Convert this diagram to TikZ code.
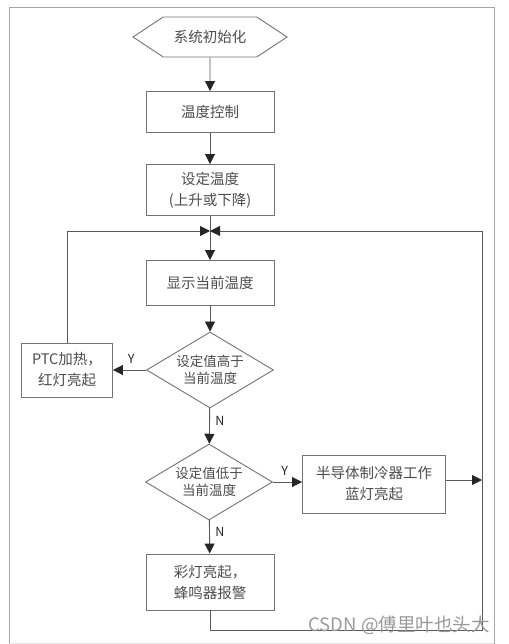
\documentclass[tikz,border=0pt]{standalone}
\usepackage{fontspec}
\setmainfont{Noto Sans CJK SC}
\usetikzlibrary{shapes.geometric,shapes.symbols,arrows.meta}

\tikzset{
  block/.style={draw=black!55, line width=0.9pt, rectangle, inner sep=0pt, minimum width=128pt,
    align=center, text=black!70, font=\fontsize{14.5}{21}\selectfont},
  choice/.style={draw=black!55, line width=0.9pt, diamond, inner sep=0pt, aspect=1.66,
    minimum width=127pt, minimum height=76pt, align=center, text=black!70,
    font=\fontsize{13.5}{17}\selectfont},
  startnode/.style={draw=black!55, line width=0.9pt, shape=signal, signal to=west and east,
    signal pointer angle=67, inner sep=0pt, minimum width=154pt, minimum height=40pt,
    text=black!70, font=\fontsize{14.5}{18}\selectfont},
  flow/.style={draw=black!65, line width=0.9pt, -{Triangle[length=10pt,width=10pt,color=black!85]}},
  plain/.style={draw=black!65, line width=0.9pt},
  tag/.style={text=black!85, font=\fontsize{12.5}{14}\selectfont}
}

\begin{document}
\begin{tikzpicture}[x=1pt, y=-1pt]
        \useasboundingbox (0,0) rectangle (508,644);
        \draw[black!35, line width=0.8pt] (9,644) -- (9,7) -- (494,7) -- (494,644);
        \draw[black!10, line width=0.8pt] (9,643) -- (494,643);

        % Draw steps
        \node[startnode] (init) at (210,37) {系统初始化};
        \node[block, minimum height=41pt] (ctrl) at (210,112) {温度控制};
        \node[block, minimum height=51pt] (set) at (210,190) {设定温度\\(上升或下降)};
        \node[block, minimum height=45pt] (show) at (210,283) {显示当前温度};
        \node[choice] (high) at (210,370) {设定值高于\\当前温度};
        \node[block, minimum width=91pt, minimum height=54pt] (heat) at (67,370) {PTC加热，\\红灯亮起};
        \node[choice] (low) at (209,482) {设定值低于\\当前温度};
        \node[block, minimum width=143pt, minimum height=58pt] (cool) at (374,484) {半导体制冷器工作\\蓝灯亮起};
        \node[block, minimum height=56pt] (alarm) at (210,582) {彩灯亮起，\\蜂鸣器报警};

        % Helper points
        \coordinate (join) at (210,231);
        \coordinate (corner) at (482,630);

        % Draw connections
        \draw[flow] (init) -- (ctrl);
        \draw[flow] (ctrl) -- (set);
        \draw[flow] (set) -- (show);
        \draw[flow] (show) -- (high);
        \draw[flow] (high) -- node[tag, above, pos=0.45, yshift=3pt] {Y} (heat);
        \draw[flow] (high) -- node[tag, right, pos=0.35, xshift=2pt] {N} (low);
        \draw[flow] (low) -- node[tag, above, pos=0.4, yshift=3pt] {Y} (cool.west |- low);
        \draw[flow] (low) -- node[tag, right, pos=0.35, xshift=2pt] {N} (alarm);
        \draw[flow] (cool.east |- 0,480) -- (corner |- 0,480);
        \draw[flow] (heat) |- (join);
        \draw[plain] (alarm) |- (corner) -- (corner |- join);
        \draw[flow] (corner |- join) -- (join);

        % Watermark
        \node[text=black!40, font=\fontsize{18.5}{20}\selectfont] (mark) at (399,625) {CSDN @傅里叶也头大};
    \end{tikzpicture}
\end{document}
